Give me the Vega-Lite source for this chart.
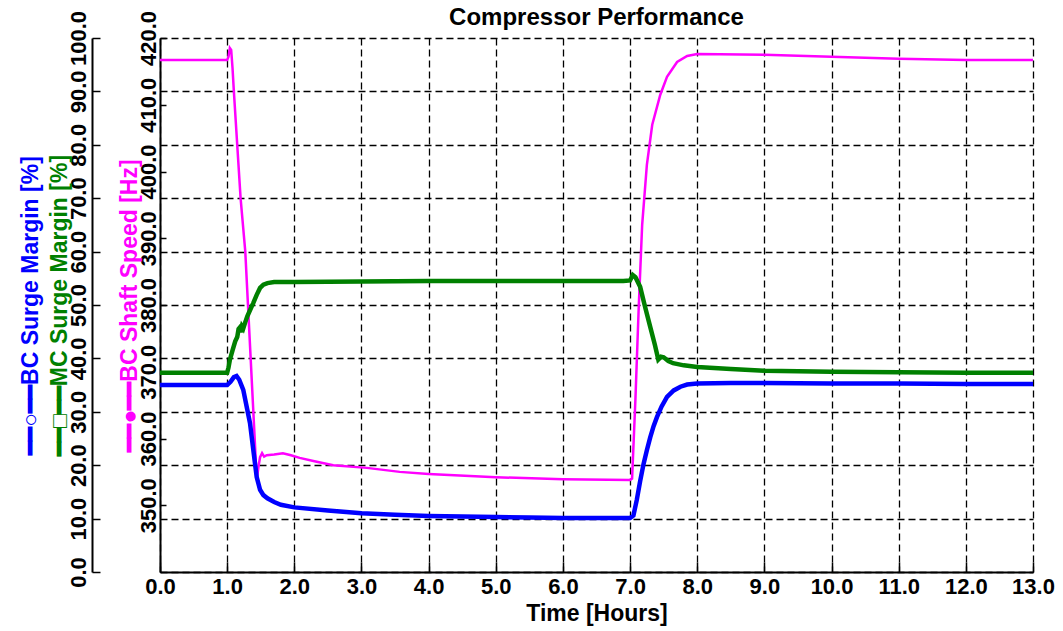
{
  "$schema": "https://vega.github.io/schema/vega-lite/v6.json",
  "width": 873,
  "height": 534,
  "autosize": {"type": "none"},
  "padding": {"left": 160, "top": 38, "right": 30, "bottom": 59},
  "title": {"text": "Compressor Performance", "fontSize": 24, "font": "Liberation Sans", "fontWeight": "bold", "color": "black", "offset": -20},
  "config": {
    "view": {"stroke": null},
    "axis": {
      "labelFont": "Liberation Sans", "labelFontWeight": "bold", "labelFontSize": 22, "labelColor": "black", "labelFlush": false,
      "titleFont": "Liberation Sans", "titleFontWeight": "bold", "titleFontSize": 23, "titleColor": "black",
      "domainColor": "black", "domainWidth": 1.5, "tickColor": "black", "tickWidth": 1.5,
      "gridColor": "black", "gridOpacity": 1, "gridWidth": 1.3, "gridDash": [7, 4]
    }
  },
  "datasets": {
    "speed": [
      {"t": 0, "v": 416.7}, {"t": 0.5, "v": 416.7}, {"t": 1.0, "v": 416.7}, {"t": 1.02, "v": 417.2}, {"t": 1.04, "v": 418.5},
      {"t": 1.06, "v": 418.2}, {"t": 1.08, "v": 415.5}, {"t": 1.1, "v": 412}, {"t": 1.15, "v": 404}, {"t": 1.2, "v": 396},
      {"t": 1.27, "v": 388}, {"t": 1.35, "v": 372}, {"t": 1.4, "v": 362}, {"t": 1.44, "v": 353.8}, {"t": 1.47, "v": 356},
      {"t": 1.49, "v": 357.2}, {"t": 1.52, "v": 357.8}, {"t": 1.55, "v": 357.3}, {"t": 1.59, "v": 357.5}, {"t": 1.7, "v": 357.6},
      {"t": 1.83, "v": 357.8}, {"t": 1.95, "v": 357.5}, {"t": 2.08, "v": 357.1}, {"t": 2.3, "v": 356.6}, {"t": 2.58, "v": 356.0},
      {"t": 3.08, "v": 355.6}, {"t": 3.57, "v": 355.0}, {"t": 4.0, "v": 354.7}, {"t": 5.0, "v": 354.2}, {"t": 6.0, "v": 353.9},
      {"t": 7.0, "v": 353.8}, {"t": 7.03, "v": 354}, {"t": 7.08, "v": 366}, {"t": 7.13, "v": 380}, {"t": 7.18, "v": 392},
      {"t": 7.25, "v": 401}, {"t": 7.33, "v": 407}, {"t": 7.45, "v": 411.5}, {"t": 7.55, "v": 414.2}, {"t": 7.7, "v": 416.4},
      {"t": 7.85, "v": 417.3}, {"t": 8.0, "v": 417.6}, {"t": 9.0, "v": 417.5}, {"t": 10.0, "v": 417.2}, {"t": 11.0, "v": 416.9},
      {"t": 12.0, "v": 416.7}, {"t": 13.0, "v": 416.7}
    ],
    "mc": [
      {"t": 0, "v": 37.3}, {"t": 1.0, "v": 37.3}, {"t": 1.02, "v": 38.3}, {"t": 1.04, "v": 39.7}, {"t": 1.08, "v": 41.5},
      {"t": 1.12, "v": 43.2}, {"t": 1.15, "v": 44.0}, {"t": 1.17, "v": 45.5}, {"t": 1.19, "v": 45.8}, {"t": 1.2, "v": 44.9},
      {"t": 1.22, "v": 46.0}, {"t": 1.24, "v": 45.6}, {"t": 1.27, "v": 46.8}, {"t": 1.3, "v": 47.9}, {"t": 1.35, "v": 49.3},
      {"t": 1.39, "v": 50.4}, {"t": 1.44, "v": 51.9}, {"t": 1.49, "v": 53.2}, {"t": 1.54, "v": 53.8}, {"t": 1.6, "v": 54.1},
      {"t": 1.7, "v": 54.3}, {"t": 2.0, "v": 54.3}, {"t": 3.0, "v": 54.4}, {"t": 4.0, "v": 54.5}, {"t": 5.0, "v": 54.5},
      {"t": 6.0, "v": 54.5}, {"t": 6.9, "v": 54.5}, {"t": 7.0, "v": 54.6}, {"t": 7.04, "v": 55.6}, {"t": 7.08, "v": 55.2},
      {"t": 7.15, "v": 53.4}, {"t": 7.22, "v": 49.8}, {"t": 7.3, "v": 45.9}, {"t": 7.37, "v": 42.5}, {"t": 7.42, "v": 39.8},
      {"t": 7.46, "v": 40.3}, {"t": 7.5, "v": 40.2}, {"t": 7.57, "v": 39.5}, {"t": 7.64, "v": 39.1}, {"t": 7.8, "v": 38.7},
      {"t": 8.0, "v": 38.4}, {"t": 8.5, "v": 38.0}, {"t": 9.0, "v": 37.7}, {"t": 9.5, "v": 37.6}, {"t": 10.0, "v": 37.5},
      {"t": 11.0, "v": 37.4}, {"t": 12.0, "v": 37.3}, {"t": 13.0, "v": 37.3}
    ],
    "bc": [
      {"t": 0, "v": 35.0}, {"t": 0.5, "v": 35.0}, {"t": 1.0, "v": 35.0}, {"t": 1.05, "v": 35.6}, {"t": 1.1, "v": 36.5},
      {"t": 1.14, "v": 36.7}, {"t": 1.18, "v": 36.0}, {"t": 1.24, "v": 34.1}, {"t": 1.29, "v": 31.0}, {"t": 1.34, "v": 27.9},
      {"t": 1.39, "v": 22.8}, {"t": 1.44, "v": 17.8}, {"t": 1.49, "v": 15.4}, {"t": 1.54, "v": 14.4}, {"t": 1.6, "v": 13.8},
      {"t": 1.7, "v": 13.1}, {"t": 1.8, "v": 12.6}, {"t": 2.0, "v": 12.1}, {"t": 2.5, "v": 11.5}, {"t": 3.0, "v": 11.0},
      {"t": 3.5, "v": 10.7}, {"t": 4.0, "v": 10.5}, {"t": 4.5, "v": 10.4}, {"t": 5.0, "v": 10.3}, {"t": 5.5, "v": 10.2},
      {"t": 6.0, "v": 10.1}, {"t": 6.5, "v": 10.1}, {"t": 7.0, "v": 10.1}, {"t": 7.05, "v": 10.6}, {"t": 7.1, "v": 13.5},
      {"t": 7.15, "v": 17.0}, {"t": 7.2, "v": 20.2}, {"t": 7.25, "v": 22.8}, {"t": 7.3, "v": 25.2}, {"t": 7.35, "v": 27.3},
      {"t": 7.4, "v": 29.0}, {"t": 7.47, "v": 31.0}, {"t": 7.55, "v": 32.8}, {"t": 7.65, "v": 34.0}, {"t": 7.75, "v": 34.7},
      {"t": 7.85, "v": 35.1}, {"t": 8.0, "v": 35.3}, {"t": 8.5, "v": 35.4}, {"t": 9.0, "v": 35.4}, {"t": 10.0, "v": 35.3},
      {"t": 11.0, "v": 35.3}, {"t": 12.0, "v": 35.2}, {"t": 13.0, "v": 35.2}
    ]
  },
  "layer": [
    {
      "data": {"name": "speed"},
      "mark": {"type": "line", "color": "#ff00ff", "strokeWidth": 2.5, "clip": true},
      "encoding": {
        "x": {
          "field": "t", "type": "quantitative",
          "scale": {"domain": [0, 13], "nice": false},
          "axis": {
            "title": "Time [Hours]", "values": [0,1,2,3,4,5,6,7,8,9,10,11,12,13], "format": ".1f",
            "grid": true, "tickSize": -10, "labelPadding": 14, "titlePadding": 5, "domainWidth": 2
          }
        },
        "y": {
          "field": "v", "type": "quantitative",
          "scale": {"domain": [340, 420], "nice": false, "zero": false},
          "axis": {
            "orient": "left", "offset": 0, "title": "━━●━━BC Shaft Speed [Hz]", "titleColor": "#ff00ff",
            "values": [350, 360, 370, 380, 390, 400, 410, 420], "format": ".1f", "labelAngle": -90,
            "grid": false, "tickSize": -6, "labelPadding": 6, "titlePadding": -4, "domainWidth": 2
          }
        }
      }
    },
    {
      "data": {"name": "mc"},
      "mark": {"type": "line", "color": "#008000", "strokeWidth": 4.5, "clip": true},
      "encoding": {
        "x": {"field": "t", "type": "quantitative"},
        "y": {
          "field": "v", "type": "quantitative",
          "scale": {"domain": [0, 100], "nice": false},
          "axis": {
            "orient": "left", "offset": 68, "title": "━━□━━MC Surge Margin [%]", "titleColor": "#008000",
            "values": [0, 10, 20, 30, 40, 50, 60, 70, 80, 90, 100], "format": ".1f", "labelAngle": -90,
            "grid": true, "tickSize": -8, "labelPadding": 10, "titlePadding": -4, "domainWidth": 2
          }
        }
      }
    },
    {
      "data": {"name": "bc"},
      "mark": {"type": "line", "color": "#0000ff", "strokeWidth": 4.5, "clip": true},
      "encoding": {
        "x": {"field": "t", "type": "quantitative"},
        "y": {
          "field": "v", "type": "quantitative",
          "scale": {"domain": [0, 100], "nice": false},
          "axis": {
            "orient": "left", "offset": 115, "title": "━━○━━BC Surge Margin [%]", "titleColor": "#0000ff",
            "labels": false, "ticks": false, "domain": false, "grid": false, "titlePadding": 3
          }
        }
      }
    }
  ],
  "resolve": {"scale": {"y": "independent"}, "axis": {"y": "independent"}}
}
